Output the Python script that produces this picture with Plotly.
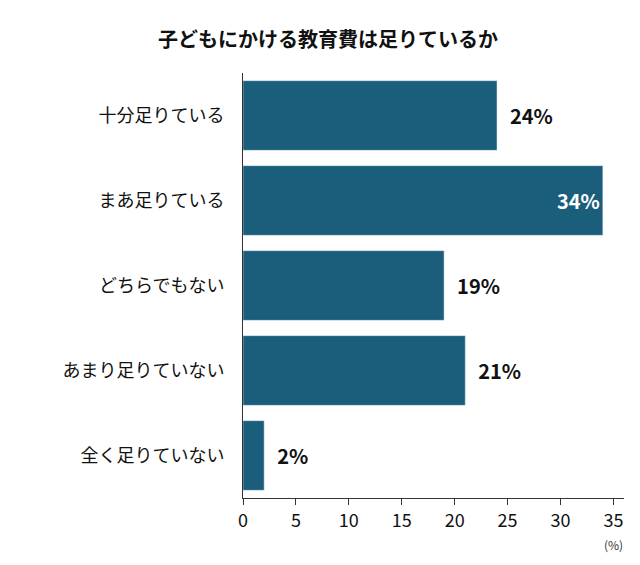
import plotly.graph_objects as go

categories = ['十分足りている', 'まあ足りている', 'どちらでもない', 'あまり足りていない', '全く足りていない']
values = [24, 34, 19, 21, 2]
labels = ['24%', '34%', '19%', '21%', '2%']

bar_color = '#1b5e7b'
font = 'Noto Sans CJK JP'

positions = ['outside', 'inside', 'outside', 'outside', 'outside']
shown = ['<b>' + (l if p == 'inside' else '\u2002' + l) + '</b>' for l, p in zip(labels, positions)]

fig = go.Figure()
fig.add_trace(
    go.Bar(
        x=values,
        y=categories,
        orientation='h',
        marker=dict(color=bar_color),
        width=0.82,
        text=shown,
        textposition=positions,
        insidetextanchor='end',
        textfont=dict(family=font, size=20),
        insidetextfont=dict(color='white', family=font, size=20),
        outsidetextfont=dict(color='#111111', family=font, size=20),
        cliponaxis=False,
    )
)
fig.update_layout(
    width=640,
    height=565,
    title=dict(
        text='<b>子どもにかける教育費は足りているか</b>',
        x=0.5, xanchor='center', y=0.955,
        font=dict(family=font, size=20, color='#111111'),
    ),
    font=dict(family=font, color='#111111'),
    plot_bgcolor='white',
    paper_bgcolor='white',
    margin=dict(l=235, r=24, t=65, b=75, autoexpand=False),
    showlegend=False,
    xaxis=dict(
        range=[0, 36],
        tickvals=[0, 5, 10, 15, 20, 25, 30, 35],
        showgrid=False,
        showline=True,
        linecolor='#333333',
        ticks='outside',
        ticklen=6,
        tickcolor='#333333',
        tickfont=dict(size=18),
        zeroline=False,
        automargin=False,
    ),
    yaxis=dict(
        autorange='reversed',
        showline=True,
        linecolor='#333333',
        ticks='',
        ticklabelstandoff=14,
        tickfont=dict(size=18),
        automargin=False,
    ),
    annotations=[
        dict(text='(%)', x=35, y=-0.135, xref='x', yref='paper',
             showarrow=False, font=dict(size=12, color='#333333'), xanchor='center'),
    ],
)
fig.write_html('out.html')
